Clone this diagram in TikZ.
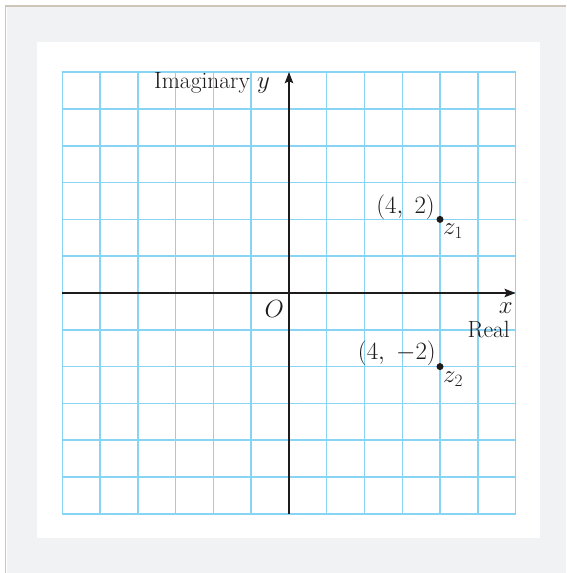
\documentclass[tikz,border=0pt]{standalone}
\usepackage{amsmath}
\usepackage{xcolor}
\usetikzlibrary{calc, positioning}
\usetikzlibrary{arrows.meta}

\definecolor{gridblue}{RGB}{135,212,245}
\definecolor{paneGray}{RGB}{241,242,244}
\definecolor{frameTan}{RGB}{205,198,182}
\definecolor{axisInk}{RGB}{30,27,28}

\begin{document}
\begin{tikzpicture}[x=37.75pt, y=36.8pt,
  every node/.style={inner sep=0pt, text=axisInk, font=\fontsize{23.5}{28}\selectfont},
  axis/.style={line width=1.3pt, draw=axisInk, -{Stealth[length=11pt, width=8.5pt, inset=2pt]}},
  gridline/.style={line width=1.5pt, draw=gridblue},
  dot/.style={circle, fill=axisInk, minimum size=7pt, inner sep=0pt}]
\def\N{6}

% Page and frame
\useasboundingbox (-289pt,-280pt) rectangle (277pt,293pt);
\fill[paneGray] (-282pt,-280pt) rectangle (277pt,286pt);
\draw[frameTan, line width=1.6pt] (-283.5pt,-280pt) -- (-283.5pt,287pt) -- (277pt,287pt);
\fill[white] (-252pt,-244.5pt) rectangle (251pt,251pt);

% Grid
\foreach \i in {-\N,...,\N} {
  \draw[gridline] (\i,-\N) -- (\i,\N);
  \draw[gridline] (-\N,\i) -- (\N,\i);
}

% Axes
\coordinate (O) at (0,0);
\coordinate (xstart) at (-\N,0);
\coordinate (xend) at (\N,0);
\coordinate (ystart) at (0,-\N);
\coordinate (yend) at (0,\N);
\draw[axis] (xstart) -- (xend);
\draw[axis] (ystart) -- (yend);

% Points
\node[dot] (z1) at (4,2) {};
\node[dot] (z2) at (4,-2) {};

% Labels
\node[anchor=base east] (imlabel) at ($(O)+(-19pt,204pt)$) {Imaginary $y$};
\node[anchor=base east] (xlabel) at ($(O)+(224pt,-20pt)$) {$x$};
\node[anchor=base east] (relabel) at ($(O)+(221pt,-44pt)$) {Real};
\node[anchor=base east] (olabel) at ($(O)+(-5pt,-24pt)$) {$O$};
\node[anchor=base east] (z1coord) at ($(z1)+(-5pt,6pt)$) {$(4,\ 2)$};
\node[anchor=base west] (z1name) at ($(z1)+(3pt,-15pt)$) {$z_1$};
\node[anchor=base east] (z2coord) at ($(z2)+(-4pt,7pt)$) {$(4,\ {-2})$};
\node[anchor=base west] (z2name) at ($(z2)+(3pt,-16pt)$) {$z_2$};
\end{tikzpicture}
\end{document}
